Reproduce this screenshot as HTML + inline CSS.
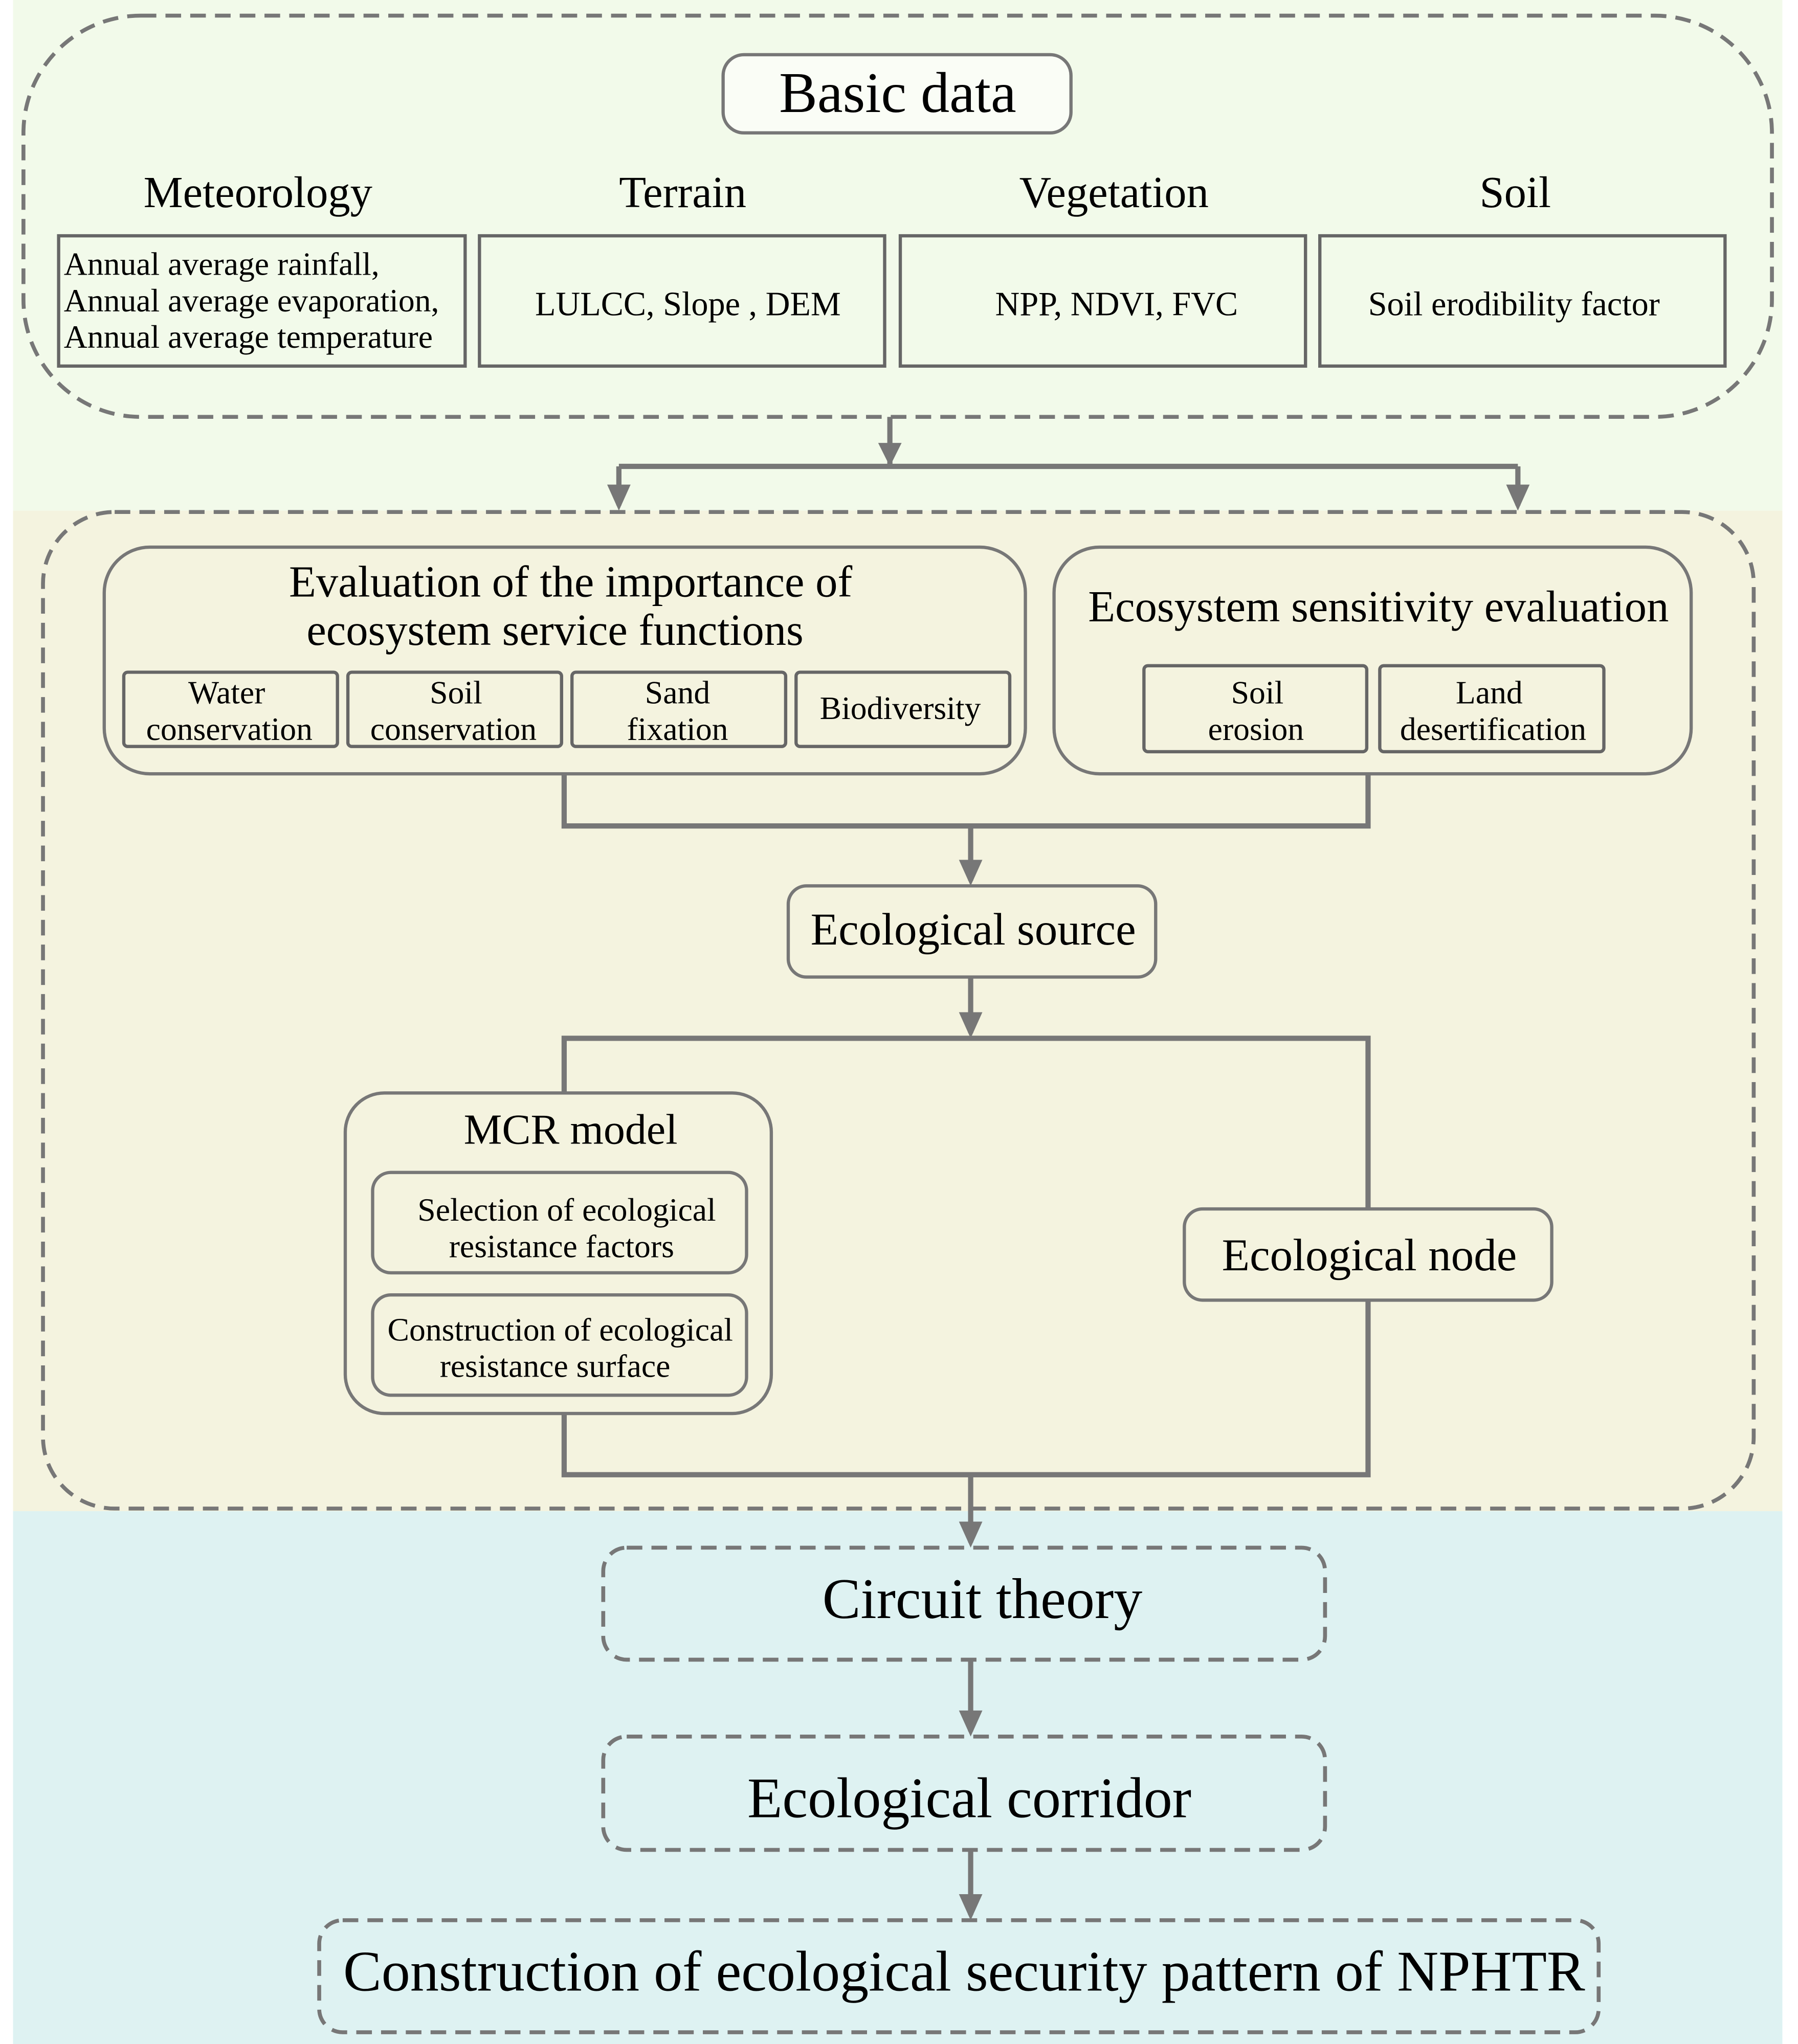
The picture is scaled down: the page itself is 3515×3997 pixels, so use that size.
<!DOCTYPE html>
<html><head><meta charset="utf-8"><style>html,body{margin:0;padding:0;background:#fff}svg{display:block}</style></head>
<body>
<svg width="3515" height="3997" viewBox="0 0 1380 1569" preserveAspectRatio="none" xmlns="http://www.w3.org/2000/svg" font-family="'Liberation Serif', serif" fill="#000">
<rect x="0" y="0" width="1380" height="1569" fill="#fff"/>
<rect x="10" y="0" width="1358" height="392" fill="#f2faea"/>
<rect x="10" y="392" width="1358" height="768" fill="#f4f3df"/>
<rect x="10" y="1160" width="1358" height="409" fill="#def2f2"/>
<g fill="none" stroke="#777" stroke-width="3" stroke-dasharray="12,7">
<rect x="18" y="12" width="1342" height="308" rx="90"/>
<rect x="33" y="393" width="1313" height="765" rx="55"/>
<rect x="463" y="1188" width="554" height="86" rx="18"/>
<rect x="463" y="1333" width="554" height="87" rx="18"/>
<rect x="245" y="1474" width="982" height="86" rx="18"/>
</g>
<g fill="none" stroke="#777" stroke-width="2.5">
<rect x="555" y="42" width="267" height="60" rx="16" fill="#fafdf6"/>
<rect x="80" y="420" width="707" height="174" rx="35"/>
<rect x="809" y="420" width="489" height="174" rx="35"/>
<rect x="605" y="680" width="282" height="70" rx="14"/>
<rect x="265" y="839" width="327" height="246" rx="30"/>
<rect x="286" y="900" width="287" height="77" rx="14"/>
<rect x="286" y="994" width="287" height="77" rx="14"/>
<rect x="909" y="928" width="282" height="70" rx="14"/>
</g>
<g fill="none" stroke="#666" stroke-width="2.5">
<rect x="45" y="181" width="312" height="100"/>
<rect x="368" y="181" width="311" height="100"/>
<rect x="691" y="181" width="311" height="100"/>
<rect x="1013" y="181" width="311" height="100"/>
<rect x="95" y="516" width="164" height="57" rx="3"/>
<rect x="267" y="516" width="164" height="57" rx="3"/>
<rect x="439" y="516" width="164" height="57" rx="3"/>
<rect x="611" y="516" width="164" height="57" rx="3"/>
<rect x="878" y="511" width="171" height="66" rx="3"/>
<rect x="1059" y="511" width="172" height="66" rx="3"/>
</g>
<g fill="none" stroke="#777" stroke-width="4">
<path d="M683 320 V358 M475 358 H1165 M475 358 V388 M1165 358 V388"/>
<path d="M433 594 V634 H1050 V594 M745 634 V676"/>
<path d="M745 750 V793 M433 839 V797 H1050 V928"/>
<path d="M433 1085 V1132 H1050 V998 M745 1132 V1184"/>
<path d="M745 1274 V1329 M745 1420 V1470"/>
</g>
<g fill="#777">
<path d="M475 392 L466 372 L484 372 Z"/><path d="M1165 392 L1156 372 L1174 372 Z"/>
<path d="M745 680 L736 660 L754 660 Z"/><path d="M745 797 L736 777 L754 777 Z"/>
<path d="M745 1188 L736 1168 L754 1168 Z"/><path d="M745 1333 L736 1313 L754 1313 Z"/>
<path d="M745 1474 L736 1454 L754 1454 Z"/><path d="M683 358 L674 340 L692 340 Z"/>
</g>
<g text-anchor="middle">
<text x="689" y="86" font-size="44">Basic data</text>
<text x="198" y="159" font-size="34">Meteorology</text>
<text x="524" y="159" font-size="34">Terrain</text>
<text x="855" y="159" font-size="34">Vegetation</text>
<text x="1163" y="159" font-size="34">Soil</text>
<text x="528" y="242" font-size="26">LULCC, Slope , DEM</text>
<text x="857" y="242" font-size="26">NPP, NDVI, FVC</text>
<text x="1162" y="242" font-size="26">Soil erodibility factor</text>
<text x="438" y="458" font-size="34">Evaluation of the importance of</text>
<text x="426" y="495" font-size="34">ecosystem service functions</text>
<text x="1058" y="477" font-size="34">Ecosystem sensitivity evaluation</text>
<text x="174" y="540" font-size="25">Water</text><text x="176" y="568" font-size="25">conservation</text>
<text x="350" y="540" font-size="25">Soil</text><text x="348" y="568" font-size="25">conservation</text>
<text x="520" y="540" font-size="25">Sand</text><text x="520" y="568" font-size="25">fixation</text>
<text x="691" y="552" font-size="25">Biodiversity</text>
<text x="965" y="540" font-size="25">Soil</text><text x="964" y="568" font-size="25">erosion</text>
<text x="1143" y="540" font-size="25">Land</text><text x="1146" y="568" font-size="25">desertification</text>
<text x="747" y="725" font-size="35">Ecological source</text>
<text x="438" y="878" font-size="33">MCR model</text>
<text x="435" y="937" font-size="25">Selection of ecological</text>
<text x="431" y="965" font-size="25">resistance factors</text>
<text x="430" y="1029" font-size="25">Construction of ecological</text>
<text x="426" y="1057" font-size="25">resistance surface</text>
<text x="1051" y="975" font-size="35">Ecological node</text>
<text x="754" y="1242" font-size="44">Circuit theory</text>
<text x="744" y="1395" font-size="44">Ecological corridor</text>
<text x="740" y="1528" font-size="44">Construction of ecological security pattern of NPHTR</text>
</g>
<g font-size="25">
<text x="49" y="211">Annual average rainfall,</text>
<text x="49" y="239">Annual average evaporation,</text>
<text x="49" y="267">Annual average temperature</text>
</g>
</svg>
</body></html>
